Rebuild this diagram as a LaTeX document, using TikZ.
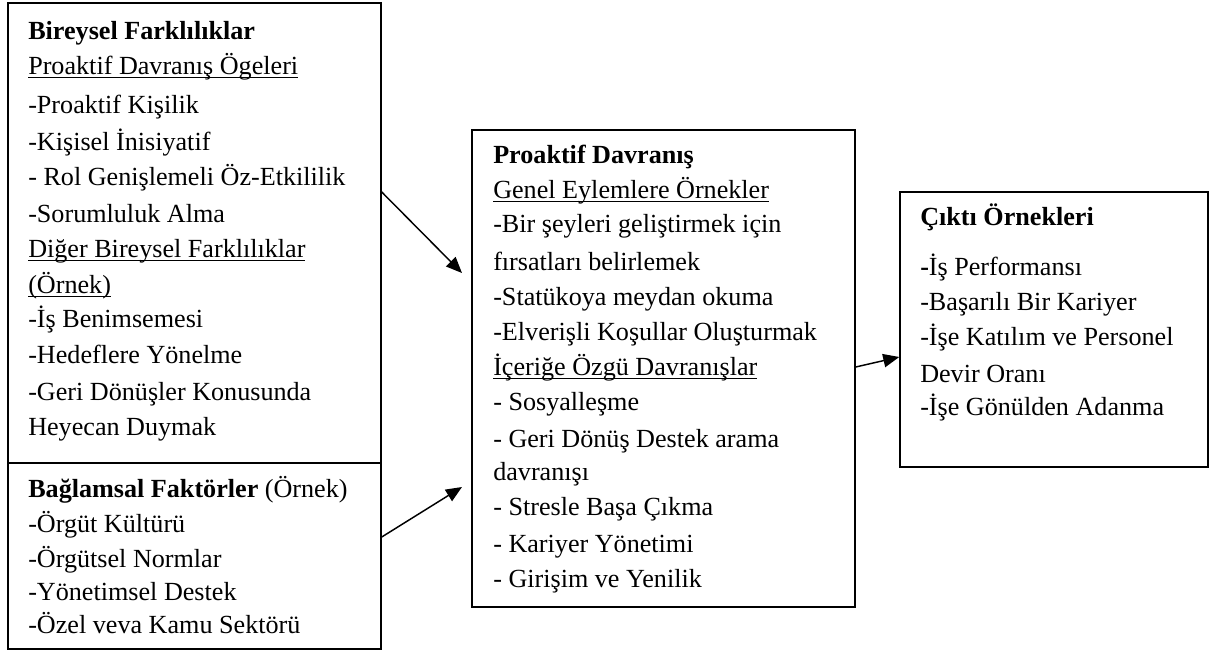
\documentclass[tikz,border=0pt]{standalone}
\usepackage{fontspec}
\setmainfont{Liberation Serif}
\usetikzlibrary{arrows.meta,fit}
\newcommand\myul[1]{\setbox0\hbox{#1}\rlap{\rule[-3.2pt]{\wd0}{1.1pt}}\box0}
\tikzset{
  boxnode/.style={draw, line width=1.1pt, inner sep=0pt},
  txt/.style={anchor=base west, inner sep=0pt, font=\fontsize{19.6}{22}\selectfont},
  arr/.style={line width=1.1pt, -{Triangle[length=12pt,width=10pt]}}
}
\begin{document}
\begin{tikzpicture}[x=0.75pt,y=-0.75pt]
\useasboundingbox (0,0) rectangle (1211,653);
\node[boxnode, fit={(8,3) (381,463)}] (b1) {};
\node[boxnode, fit={(8,463) (381,649)}] (b2) {};
\node[boxnode, fit={(472,130) (855,607)}] (b3) {};
\node[boxnode, fit={(900,192) (1208,467)}] (b4) {};
\foreach \y/\t in {39/{\textbf{Bireysel Farklılıklar}}, 74/{\myul{Proaktif Davranış Ögeleri}}, 113/{-Proaktif Kişilik}, 150/{-Kişisel İnisiyatif}, 185/{- Rol Genişlemeli Öz-Etkililik}, 222/{-Sorumluluk Alma}, 257/{\myul{Diğer Bireysel Farklılıklar}}, 293/{\myul{(Örnek)}}, 327/{-İş Benimsemesi}, 363/{-Hedeflere Yönelme}, 400/{-Geri Dönüşler Konusunda}, 435/{Heyecan Duymak}}
  \node[txt] (ta\y) at (28,\y) {\t};
\foreach \y/\t in {497/{\textbf{Bağlamsal Faktörler} (Örnek)}, 532/{-Örgüt Kültürü}, 567/{-Örgütsel Normlar}, 600/{-Yönetimsel Destek}, 633/{-Özel veva Kamu Sektörü}}
  \node[txt] (tb\y) at (28,\y) {\t};
\foreach \y/\t in {163/{\textbf{Proaktif Davranış}}, 198/{\myul{Genel Eylemlere Örnekler}}, 232/{-Bir şeyleri geliştirmek için}, 270/{fırsatları belirlemek}, 305/{-Statükoya meydan okuma}, 340/{-Elverişli Koşullar Oluşturmak}, 375/{\myul{İçeriğe Özgü Davranışlar}}, 410/{- Sosyalleşme}, 447/{- Geri Dönüş Destek arama}, 480/{davranışı}, 515/{- Stresle Başa Çıkma}, 552/{- Kariyer Yönetimi}, 587/{- Girişim ve Yenilik}}
  \node[txt] (tc\y) at (493,\y) {\t};
\foreach \y/\t in {225/{\textbf{Çıktı Örnekleri}}, 275/{\textbf{-}İş Performansı}, 310/{-Başarılı Bir Kariyer}, 345/{-İşe Katılım ve Personel}, 382/{Devir Oranı}, 415/{-İşe Gönülden Adanma}}
  \node[txt] (td\y) at (920,\y) {\t};
\coordinate (s1) at (0,192);
\coordinate (e1) at (462,273);
\coordinate (s2) at (0,537);
\coordinate (e2) at (462,487);
\coordinate (s3) at (0,367);
\coordinate (e3) at (0,357);
\draw[arr] (b1.east |- s1) -- (e1);
\draw[arr] (b2.east |- s2) -- (e2);
\draw[arr] (b3.east |- s3) -- (b4.west |- e3);
\end{tikzpicture}
\end{document}
